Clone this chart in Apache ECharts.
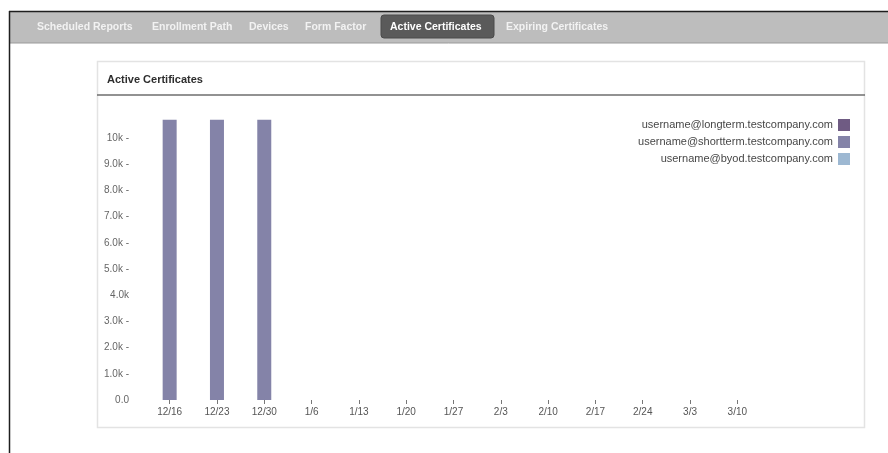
<!DOCTYPE html>
<html>
<head>
<meta charset="utf-8">
<script src="https://cdn.jsdelivr.net/npm/echarts@6/dist/echarts.min.js"></script>
<style>
  html, body { margin: 0; padding: 0; background: #fff; }
  #chart { width: 888px; height: 453px; }
</style>
</head>
<body>
<div id="chart"></div>
<script>
// weeks shown on the x axis
const weeks = ['12/16', '12/23', '12/30', '1/6', '1/13', '1/20', '1/27', '2/3', '2/10', '2/17', '2/24', '3/3', '3/10']
const seriesNames = [
  'username@longterm.testcompany.com',
  'username@shortterm.testcompany.com',
  'username@byod.testcompany.com'
]
const longtermValues = [0, 0, 0, 0, 0, 0, 0, 0, 0, 0, 0, 0, 0]
const shorttermValues = [10700, 10700, 10700, 0, 0, 0, 0, 0, 0, 0, 0, 0, 0]
const byodValues = [0, 0, 0, 0, 0, 0, 0, 0, 0, 0, 0, 0, 0]
const yTickLabels = ['0.0', '1.0k -', '2.0k -', '3.0k -', '4.0k', '5.0k -', '6.0k -', '7.0k -', '8.0k -', '9.0k -', '10k -', '']
const tabs = ['Scheduled Reports', 'Enrollment Path', 'Devices', 'Form Factor', 'Active Certificates', 'Expiring Certificates']
const tabX = [37, 152, 249, 305, 390, 506]
const activeTab = 4

const colors = ['#6f5b83', '#8483a8', '#9db8d2']
const font = '"Liberation Sans", Arial, sans-serif'

const chart = echarts.init(document.getElementById('chart'), null, { renderer: 'canvas' })

const tabGraphics = tabs.map((t, i) => ({
  type: 'text',
  left: tabX[i],
  top: 22,
  z: 20,
  style: {
    text: t,
    fill: i === activeTab ? '#ffffff' : '#f2f2f2',
    font: 'bold 10.5px ' + font
  }
}))

const option = {
  animation: false,
  color: colors,
  textStyle: { fontFamily: font },
  graphic: [
    // outer frame + tab bar
    { type: 'rect', shape: { x: 9, y: 11, width: 890, height: 32 }, style: { fill: '#bdbdbd', stroke: 'none' }, z: 1 },
    { type: 'line', shape: { x1: 9, y1: 11.5, x2: 888, y2: 11.5 }, style: { stroke: '#1e1e1e', lineWidth: 1.5 }, z: 2 },
    { type: 'line', shape: { x1: 9, y1: 43, x2: 888, y2: 43 }, style: { stroke: '#9a9a9a', lineWidth: 1 }, z: 2 },
    { type: 'line', shape: { x1: 9.5, y1: 11, x2: 9.5, y2: 453 }, style: { stroke: '#1e1e1e', lineWidth: 1.5 }, z: 2 },
    { type: 'rect', shape: { x: 381, y: 15, width: 113, height: 23, r: 3 }, style: { fill: '#5a5a5a', stroke: '#4a4a4a' }, z: 10 },
    ...tabGraphics,
    // panel
    { type: 'rect', shape: { x: 97.5, y: 61.5, width: 767, height: 366 }, style: { fill: 'none', stroke: '#e3e3e3', lineWidth: 1.5 }, z: 1 },
    { type: 'line', shape: { x1: 97, y1: 95, x2: 865, y2: 95 }, style: { stroke: '#6e6e6e', lineWidth: 1.5 }, z: 2 },
    { type: 'text', left: 107, top: 74, style: { text: 'Active Certificates', fill: '#2e2e2e', font: 'bold 11px ' + font }, z: 2 }
  ],
  legend: {
    orient: 'vertical',
    right: 33,
    top: 114,
    align: 'right',
    itemWidth: 12,
    itemHeight: 12,
    itemGap: 5,
    icon: 'rect',
    textStyle: { fontSize: 11, color: '#474747', padding: [0, 0, 0, 0] },
    data: seriesNames
  },
  grid: {
    left: 146,
    right: 127,
    top: 112,
    bottom: 53,
    containLabel: false
  },
  xAxis: {
    type: 'category',
    data: weeks,
    axisLine: { show: false },
    axisTick: { show: true, alignWithLabel: true, length: 4, lineStyle: { color: '#777' } },
    axisLabel: { color: '#555', fontSize: 10, margin: 7 },
    splitLine: { show: false }
  },
  yAxis: {
    type: 'value',
    min: 0,
    max: 11000,
    interval: 1000,
    axisLine: { show: false },
    axisTick: { show: false },
    splitLine: { show: false },
    axisLabel: {
      color: '#666',
      fontSize: 10,
      margin: 17,
      align: 'right',
      formatter: (v) => yTickLabels[Math.round(v / 1000)]
    }
  },
  series: [
    { name: seriesNames[0], type: 'bar', stack: 'certs', barWidth: 14, data: longtermValues, itemStyle: { color: colors[0] } },
    { name: seriesNames[1], type: 'bar', stack: 'certs', barWidth: 14, data: shorttermValues, itemStyle: { color: colors[1] } },
    { name: seriesNames[2], type: 'bar', stack: 'certs', barWidth: 14, data: byodValues, itemStyle: { color: colors[2] } }
  ]
}

chart.setOption(option)
</script>
</body>
</html>
